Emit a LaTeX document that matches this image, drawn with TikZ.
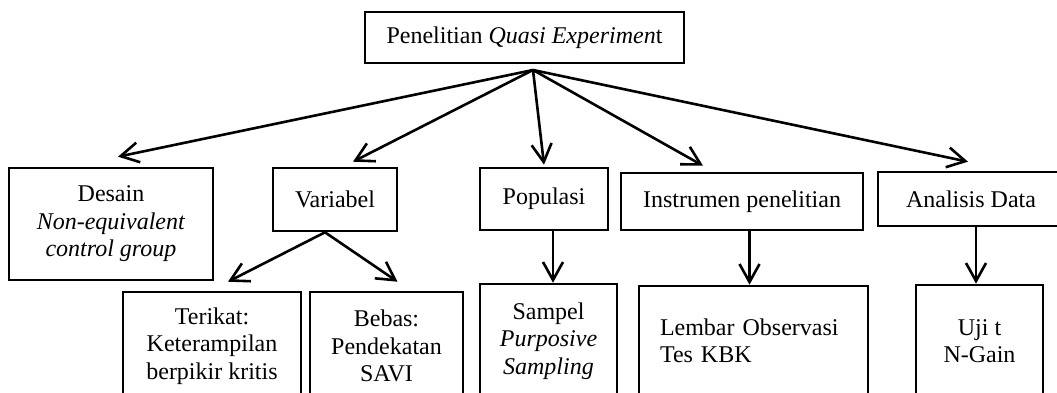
\documentclass[tikz,border=0pt]{standalone}
\usepackage{fontspec}
\setmainfont{Liberation Serif}
\usetikzlibrary{arrows.meta}
\tikzstyle{box}=[draw, line width=1.3pt, align=center, inner sep=0pt, font=\fontsize{12pt}{13.75pt}\selectfont]
\tikzstyle{link}=[line width=1.3pt, -{Straight Barb[length=9pt,width=10pt]}]

\begin{document}
\begin{tikzpicture}[x=0.5pt, y=-0.5pt]
  \useasboundingbox (0,0) rectangle (1057,392);
  \clip (0,0) rectangle (1057,392);
  % upper row
  \node[box, minimum width=159.5pt, minimum height=25.5pt] (judul) at (524.5,37.5) {Penelitian \textit{Quasi Experimen}t};
  \coordinate (hub) at (533,70);
  \node[box, minimum width=102pt, minimum height=56pt] (desain) at (111,224) {Desain\\\textit{Non-equivalent}\\\textit{control group}};
  \node[box, minimum width=62pt, minimum height=31.5pt] (variabel) at (335,199.5) {Variabel};
  \node[box, minimum width=64pt, minimum height=31pt] (populasi) at (544,199) {Populasi};
  \node[box, minimum width=121pt, minimum height=28.5pt] (instrumen) at (742,201.5) {Instrumen penelitian};
  \node[box, minimum width=93pt, minimum height=27pt] (analisis) at (971,199) {Analisis Data};
  % lower row
  \node[box, minimum width=89pt, minimum height=54pt] (terikat) at (212,346) {Terikat:\\Keterampilan\\berpikir kritis};
  \node[box, minimum width=76.5pt, minimum height=54pt] (bebas) at (386.5,346) {Bebas:\\Pendekatan\\SAVI};
  \node[box, minimum width=68.5pt, minimum height=57pt] (sampel) at (548.5,341) {Sampel\\\textit{Purposive}\\\textit{Sampling}};
  \node[box, align=left, text width=93.5pt, inner xsep=10.5pt, minimum height=55pt] (lembar) at (753.5,341) {Lembar Observasi\\Tes KBK};
  \node[box, minimum width=63.5pt, minimum height=56pt] (uji) at (979.5,341) {Uji t\\N-Gain};
  % connectors
  \draw[link] (hub) -- ([xshift=3.5pt,yshift=5pt]desain.north);
  \draw[link] (hub) -- ([xshift=9pt,yshift=2.5pt]variabel.north);
  \draw[link] (hub) -- ([yshift=1pt]populasi.north);
  \draw[link] (hub) -- ([xshift=-19.5pt,yshift=3pt]instrumen.north);
  \draw[link] (hub) -- ([xshift=-1.5pt,yshift=4.5pt]analisis.north);
  \draw[link] ([xshift=-5pt]variabel.south) -- ([xshift=8pt,yshift=4.5pt]terikat.north);
  \draw[link] ([xshift=-5pt]variabel.south) -- ([xshift=5.5pt,yshift=4.5pt]bebas.north);
  \draw[link] ([xshift=2.25pt]sampel.north |- populasi.south) -- ([xshift=2.25pt]sampel.north);
  \draw[link] ([xshift=-2pt]lembar.north |- instrumen.south) -- ([xshift=-2pt]lembar.north);
  \draw[link] ([xshift=-1.75pt]uji.north |- analisis.south) -- ([xshift=-1.75pt]uji.north);
\end{tikzpicture}
\end{document}
